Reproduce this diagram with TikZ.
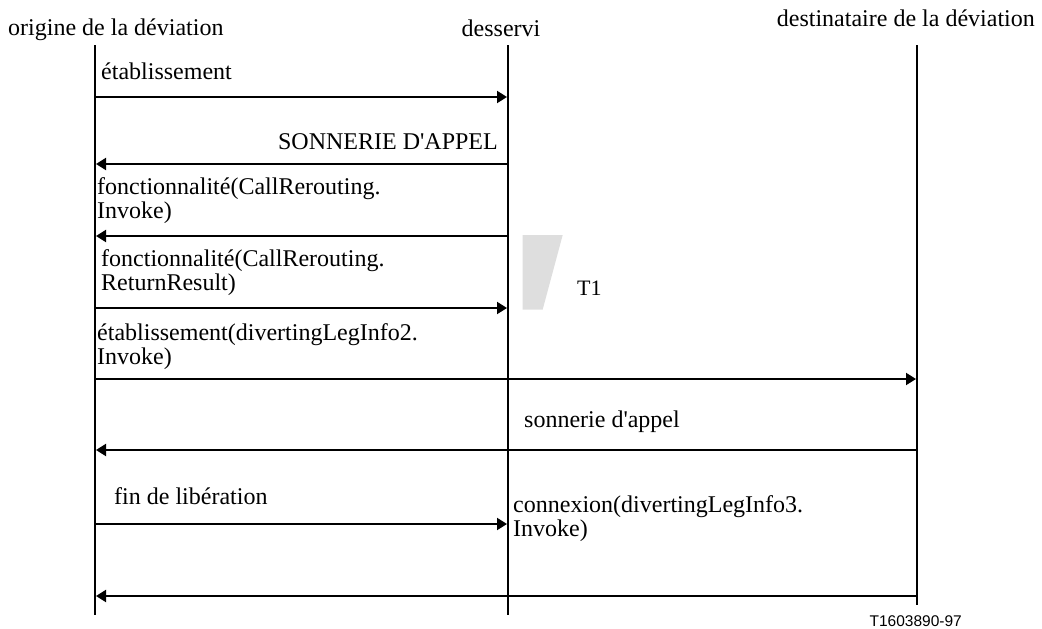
\documentclass[tikz,border=0pt]{standalone}
\usepackage{fontspec}
\newfontfamily\rawserif{Liberation Serif}
\newfontfamily\sansf{Liberation Sans}
\usetikzlibrary{arrows.meta}
\definecolor{tgray}{HTML}{DEDEDE}
\begin{document}
\begin{tikzpicture}[x=1pt,y=-1pt,
  life/.style={line width=1.5pt},
  msg/.style={line width=2pt,shorten >=1pt,-{Triangle[length=10pt,width=12pt]}},
  lbl/.style={font=\rawserif\fontsize{24}{24}\selectfont, inner sep=0pt, align=left},
]
\useasboundingbox (0,0) rectangle (1042,629);
% headers
\node[lbl,anchor=base west] (hA) at (8,35) {origine de la déviation};
\node[lbl,anchor=base] (hB) at (501,36) {desservi};
\node[lbl,anchor=base east] (hC) at (1035,27) {destinataire de la déviation};
% lifelines
\coordinate (At) at (95,45);  \coordinate (Ab) at (95,615);
\coordinate (Bt) at (508,45); \coordinate (Bb) at (508,615);
\coordinate (Ct) at (917,45); \coordinate (Cb) at (917,605);
\draw[life] (At) -- (Ab);
\draw[life] (Bt) -- (Bb);
\draw[life] (Ct) -- (Cb);
% timer
\fill[tgray] (522.7,235) -- (562.7,235) -- (542.7,309.5) -- (522.7,309.5) -- cycle;
\node[font=\rawserif\fontsize{22}{22}\selectfont, inner sep=0pt, anchor=base west] (t1) at (577,295) {T1};
% message coordinates
\coordinate (m1a) at (95,97);  \coordinate (m1b) at (508,97);
\coordinate (m2a) at (508,164); \coordinate (m2b) at (95,164);
\coordinate (m3a) at (508,236); \coordinate (m3b) at (95,236);
\coordinate (m4a) at (95,308);  \coordinate (m4b) at (508,308);
\coordinate (m5a) at (95,379);  \coordinate (m5b) at (917,379);
\coordinate (m6a) at (917,450); \coordinate (m6b) at (95,450);
\coordinate (m7a) at (95,524);  \coordinate (m7b) at (508,524);
\coordinate (m8a) at (917,596); \coordinate (m8b) at (95,596);
\draw[msg] (m1a) -- (m1b);
\draw[msg] (m2a) -- (m2b);
\draw[msg] (m3a) -- (m3b);
\draw[msg] (m4a) -- (m4b);
\draw[msg] (m5a) -- (m5b);
\draw[msg] (m6a) -- (m6b);
\draw[msg] (m7a) -- (m7b);
\draw[msg] (m8a) -- (m8b);
% labels (base anchor = baseline of last line)
\node[lbl,anchor=base west] (l1) at (101,79) {établissement};
\node[lbl,anchor=base east] (l2) at (498,149) {SONNERIE D'APPEL};
\node[lbl,anchor=base west] (l3) at (97,218) {fonctionnalité(CallRerouting.\\Invoke)};
\node[lbl,anchor=base west] (l4) at (101,290) {fonctionnalité(CallRerouting.\\ReturnResult)};
\node[lbl,anchor=base west] (l5) at (97,364) {établissement(divertingLegInfo2.\\Invoke)};
\node[lbl,anchor=base west] (l6) at (524,427) {sonnerie d'appel};
\node[lbl,anchor=base west] (l7) at (114,504) {fin de libération};
\node[lbl,anchor=base west] (l8) at (513,536) {connexion(divertingLegInfo3.\\Invoke)};
% reference
\node[font=\sansf\fontsize{15.5}{15.5}\selectfont, inner sep=0pt, anchor=base east] (ref) at (962,626) {T1603890-97};
\end{tikzpicture}
\end{document}
